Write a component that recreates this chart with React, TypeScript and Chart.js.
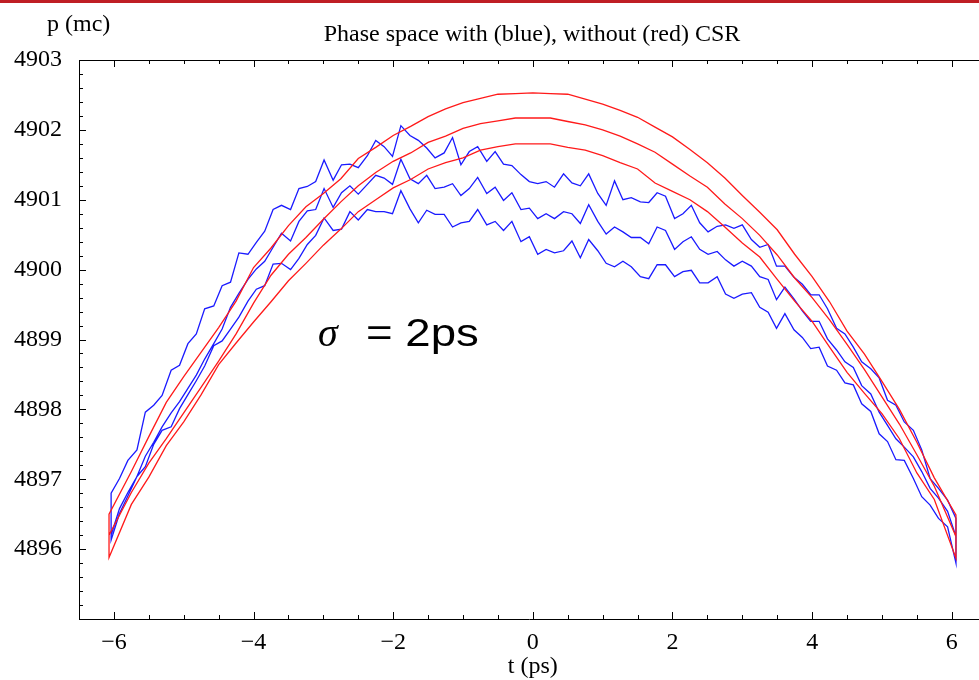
import React, { useEffect, useRef } from 'react';
import { Chart, registerables } from 'chart.js';

Chart.register(...registerables);

// ---- axis setup ----
const X_MIN = -6.5;
const X_MAX = 6.39;
const Y_MIN = 4895;
const Y_MAX = 4903;
const X_TICKS = [-6, -4, -2, 0, 2, 4, 6];
const Y_TICKS = [4896, 4897, 4898, 4899, 4900, 4901, 4902, 4903];
const X_MINOR_STEP = 0.5;
const Y_MINOR_STEP = 0.2;

const TITLE = 'Phase space with (blue), without (red) CSR';
const X_LABEL = 't (ps)';
const Y_LABEL = 'p (mc)';
const NOTE_SYMBOL = 'σ';
const NOTE_TEXT = '= 2ps';

// ---- red (without CSR): three smooth rows ----
const RED_T = [-6.07, -5.75, -5.5, -5.25, -5, -4.75, -4.5, -4.25, -4, -3.75, -3.5, -3.25, -3, -2.75, -2.5, -2.25, -2, -1.75, -1.5, -1.25, -1, -0.75, -0.5, -0.25, 0, 0.25, 0.5, 0.75, 1, 1.25, 1.5, 1.75, 2, 2.25, 2.5, 2.75, 3, 3.25, 3.5, 3.75, 4, 4.25, 4.5, 4.75, 5, 5.25, 5.5, 5.75, 6.06];
const RED_TOP = [4896.50, 4897.11, 4897.61, 4898.10, 4898.47, 4898.82, 4899.17, 4899.55, 4900.03, 4900.31, 4900.63, 4900.90, 4901.09, 4901.30, 4901.59, 4901.75, 4901.92, 4902.05, 4902.19, 4902.30, 4902.39, 4902.45, 4902.51, 4902.52, 4902.53, 4902.52, 4902.51, 4902.44, 4902.37, 4902.28, 4902.18, 4902.04, 4901.90, 4901.72, 4901.53, 4901.31, 4901.06, 4900.82, 4900.57, 4900.22, 4899.90, 4899.54, 4899.12, 4898.79, 4898.40, 4898.00, 4897.53, 4897.02, 4896.49];
const RED_MID = [4896.20, 4896.81, 4897.23, 4897.58, 4897.95, 4898.32, 4898.69, 4899.08, 4899.52, 4899.92, 4900.22, 4900.46, 4900.72, 4900.97, 4901.20, 4901.39, 4901.55, 4901.67, 4901.82, 4901.91, 4902.02, 4902.09, 4902.13, 4902.17, 4902.17, 4902.17, 4902.12, 4902.07, 4902.00, 4901.91, 4901.80, 4901.68, 4901.51, 4901.34, 4901.18, 4900.94, 4900.73, 4900.49, 4900.21, 4899.88, 4899.60, 4899.28, 4898.93, 4898.57, 4898.18, 4897.79, 4897.35, 4896.90, 4896.18];
const RED_BOT = [4895.88, 4896.64, 4897.03, 4897.48, 4897.82, 4898.21, 4898.64, 4898.95, 4899.25, 4899.54, 4899.84, 4900.09, 4900.35, 4900.58, 4900.83, 4901.00, 4901.17, 4901.29, 4901.44, 4901.53, 4901.60, 4901.71, 4901.76, 4901.80, 4901.80, 4901.80, 4901.75, 4901.71, 4901.63, 4901.53, 4901.44, 4901.24, 4901.12, 4901.00, 4900.83, 4900.61, 4900.38, 4900.18, 4899.86, 4899.55, 4899.26, 4898.89, 4898.53, 4898.23, 4897.94, 4897.58, 4897.09, 4896.71, 4895.87];

// ---- blue (with CSR): three noisy rows ----
const BLUE_T = [
  -6.04, -5.92, -5.80, -5.67, -5.55, -5.43, -5.31, -5.18, -5.06, -4.94,
  -4.82, -4.70, -4.57, -4.45, -4.33, -4.21, -4.08, -3.96, -3.84, -3.72,
  -3.60, -3.47, -3.35, -3.23, -3.11, -2.99, -2.86, -2.74, -2.62, -2.50,
  -2.37, -2.25, -2.13, -2.01, -1.89, -1.76, -1.64, -1.52, -1.40, -1.27,
  -1.15, -1.03, -0.91, -0.79, -0.66, -0.54, -0.42, -0.30, -0.17, -0.05,
  0.07, 0.19, 0.31, 0.44, 0.56, 0.68, 0.80, 0.93, 1.05, 1.17,
  1.29, 1.41, 1.54, 1.66, 1.78, 1.90, 2.03, 2.15, 2.27, 2.39,
  2.51, 2.64, 2.76, 2.88, 3.00, 3.13, 3.25, 3.37, 3.49, 3.61,
  3.74, 3.86, 3.98, 4.10, 4.22, 4.35, 4.47, 4.59, 4.71, 4.84,
  4.96, 5.08, 5.20, 5.32, 5.45, 5.57, 5.69, 5.81, 5.94, 6.06,
];
const BLUE_TOP = [
  4896.80, 4897.01, 4897.27, 4897.42, 4897.96, 4898.06, 4898.20, 4898.56, 4898.63, 4898.94,
  4899.08, 4899.44, 4899.48, 4899.77, 4899.82, 4900.24, 4900.22, 4900.39, 4900.55, 4900.86,
  4900.92, 4900.86, 4901.16, 4901.19, 4901.26, 4901.57, 4901.28, 4901.50, 4901.51, 4901.46,
  4901.63, 4901.85, 4901.76, 4901.62, 4902.06, 4901.92, 4901.85, 4901.74, 4901.60, 4901.67,
  4901.89, 4901.50, 4901.69, 4901.76, 4901.55, 4901.69, 4901.51, 4901.49, 4901.36, 4901.26,
  4901.23, 4901.26, 4901.18, 4901.37, 4901.24, 4901.20, 4901.37, 4901.09, 4900.92, 4901.27,
  4901.00, 4901.03, 4900.97, 4900.96, 4901.10, 4901.05, 4900.73, 4900.80, 4900.92, 4900.67,
  4900.54, 4900.62, 4900.64, 4900.59, 4900.64, 4900.43, 4900.32, 4900.36, 4900.05, 4900.05,
  4899.89, 4899.79, 4899.64, 4899.64, 4899.44, 4899.16, 4899.08, 4898.89, 4898.68, 4898.58,
  4898.45, 4898.13, 4898.06, 4897.82, 4897.70, 4897.42, 4897.01, 4896.87, 4896.70, 4896.44,
];
const BLUE_MID = [
  4896.20, 4896.58, 4896.81, 4897.04, 4897.33, 4897.53, 4897.75, 4897.95, 4898.11, 4898.30,
  4898.49, 4898.72, 4898.94, 4899.15, 4899.46, 4899.66, 4899.86, 4900.01, 4900.12, 4900.32,
  4900.52, 4900.41, 4900.69, 4900.84, 4900.86, 4901.16, 4900.89, 4901.10, 4901.20, 4901.08,
  4901.22, 4901.35, 4901.31, 4901.22, 4901.58, 4901.30, 4901.23, 4901.35, 4901.16, 4901.18,
  4901.23, 4901.06, 4901.16, 4901.32, 4901.09, 4901.18, 4900.99, 4901.10, 4900.86, 4900.88,
  4900.73, 4900.80, 4900.73, 4900.83, 4900.80, 4900.66, 4900.93, 4900.69, 4900.51, 4900.61,
  4900.54, 4900.46, 4900.46, 4900.37, 4900.61, 4900.56, 4900.29, 4900.40, 4900.47, 4900.29,
  4900.22, 4900.26, 4900.14, 4900.05, 4900.12, 4900.05, 4899.90, 4899.86, 4899.57, 4899.75,
  4899.58, 4899.41, 4899.26, 4899.26, 4899.01, 4898.85, 4898.68, 4898.60, 4898.34, 4898.22,
  4897.96, 4897.77, 4897.58, 4897.46, 4897.32, 4897.11, 4896.87, 4896.73, 4896.54, 4896.18,
];
const BLUE_BOT = [
  4896.13, 4896.51, 4896.76, 4897.04, 4897.18, 4897.50, 4897.70, 4897.75, 4898.01, 4898.21,
  4898.41, 4898.62, 4898.91, 4898.98, 4899.15, 4899.32, 4899.55, 4899.72, 4899.77, 4900.08,
  4900.09, 4900.00, 4900.16, 4900.36, 4900.49, 4900.74, 4900.56, 4900.58, 4900.83, 4900.71,
  4900.86, 4900.83, 4900.83, 4900.80, 4901.13, 4900.87, 4900.67, 4900.85, 4900.79, 4900.79,
  4900.61, 4900.67, 4900.69, 4900.86, 4900.64, 4900.69, 4900.56, 4900.69, 4900.40, 4900.47,
  4900.22, 4900.29, 4900.24, 4900.27, 4900.41, 4900.17, 4900.43, 4900.27, 4900.09, 4900.04,
  4900.12, 4900.04, 4899.90, 4899.87, 4900.07, 4900.07, 4899.90, 4899.97, 4899.99, 4899.81,
  4899.81, 4899.90, 4899.65, 4899.59, 4899.65, 4899.67, 4899.46, 4899.39, 4899.16, 4899.37,
  4899.14, 4899.03, 4898.87, 4898.89, 4898.62, 4898.56, 4898.38, 4898.35, 4898.08, 4897.97,
  4897.65, 4897.54, 4897.28, 4897.27, 4897.01, 4896.75, 4896.63, 4896.44, 4896.32, 4895.80,
];

// one continuous trace per colour: mid start -> top (L->R) -> bottom (R->L) -> mid (L->R)
function tracePath(t: number[], top: number[], mid: number[], bot: number[]) {
  const pts: { x: number; y: number }[] = [];
  pts.push({ x: t[0], y: mid[0] });
  for (let i = 0; i < t.length; i++) pts.push({ x: t[i], y: top[i] });
  for (let i = t.length - 1; i >= 0; i--) pts.push({ x: t[i], y: bot[i] });
  for (let i = 0; i < t.length; i++) pts.push({ x: t[i], y: mid[i] });
  return pts;
}

const SERIF = "'Liberation Serif', 'Times New Roman', serif";
const SANS = "'Liberation Sans', Arial, sans-serif";

const fmtTick = (v: number) => (v < 0 ? '\u2212' + Math.abs(v) : String(v));

const decorPlugin = {
  id: 'decor',
  afterDraw(chart: any) {
    const { ctx, chartArea: a, scales } = chart;
    const xs = scales.x;
    const ys = scales.y;
    ctx.save();
    ctx.strokeStyle = '#000';
    ctx.lineWidth = 1;
    ctx.beginPath();
    // top frame line
    ctx.moveTo(a.left, Math.round(a.top) + 0.5);
    ctx.lineTo(a.right, Math.round(a.top) + 0.5);
    // x ticks (bottom pointing up, top pointing down)
    for (let v = X_MIN; v <= X_MAX + 1e-9; v += X_MINOR_STEP) {
      const major = X_TICKS.some((m) => Math.abs(m - v) < 1e-6);
      const len = major ? 7 : 4;
      const px = Math.round(xs.getPixelForValue(v)) + 0.5;
      ctx.moveTo(px, a.bottom);
      ctx.lineTo(px, a.bottom - len);
      ctx.moveTo(px, a.top);
      ctx.lineTo(px, a.top + len);
    }
    // y ticks (left pointing right)
    const nY = Math.round((Y_MAX - Y_MIN) / Y_MINOR_STEP);
    for (let i = 0; i <= nY; i++) {
      const v = Y_MIN + i * Y_MINOR_STEP;
      const major = Y_TICKS.some((m) => Math.abs(m - v) < 1e-6);
      const len = major ? 7 : 4;
      const py = Math.round(ys.getPixelForValue(v)) + 0.5;
      ctx.moveTo(a.left, py);
      ctx.lineTo(a.left + len, py);
    }
    ctx.stroke();

    ctx.fillStyle = '#000';
    ctx.textBaseline = 'alphabetic';
    ctx.font = `24px ${SERIF}`;
    ctx.textAlign = 'left';
    ctx.fillText(Y_LABEL, 47, 31);
    ctx.textAlign = 'center';
    ctx.fillText(TITLE, 532, 41);
    ctx.fillText(X_LABEL, xs.getPixelForValue(0), 673);

    // sigma annotation
    ctx.textAlign = 'left';
    ctx.font = `italic 40px ${SERIF}`;
    ctx.fillText(NOTE_SYMBOL, 318, 346);
    ctx.save();
    ctx.translate(366, 346);
    ctx.scale(1.2, 1);
    ctx.font = `38px ${SANS}`;
    ctx.fillText(NOTE_TEXT, 0, 0);
    ctx.restore();
    ctx.restore();
  },
};

export default function App() {
  const canvasRef = useRef<HTMLCanvasElement | null>(null);

  useEffect(() => {
    if (!canvasRef.current) return;
    const chart = new Chart(canvasRef.current, {
      type: 'line',
      data: {
        datasets: [
          {
            label: 'without CSR',
            data: tracePath(RED_T, RED_TOP, RED_MID, RED_BOT),
            borderColor: '#ff1a1a',
            borderWidth: 1.3,
            pointRadius: 0,
            tension: 0,
            fill: false,
            order: 0,
          },
          {
            label: 'with CSR',
            data: tracePath(BLUE_T, BLUE_TOP, BLUE_MID, BLUE_BOT),
            borderColor: '#1a1aff',
            borderWidth: 1.3,
            pointRadius: 0,
            tension: 0,
            fill: false,
            order: 1,
          },
        ],
      },
      options: {
        responsive: false,
        animation: false,
        devicePixelRatio: 1,
        parsing: false,
        layout: { padding: { top: 60, left: 0, right: 0, bottom: 0 } },
        plugins: {
          legend: { display: false },
          title: { display: false },
          tooltip: { enabled: false },
        },
        scales: {
          x: {
            type: 'linear',
            position: 'bottom',
            min: X_MIN,
            max: X_MAX,
            grid: { display: false, drawTicks: false },
            border: { display: true, color: '#000', width: 1 },
            ticks: {
              color: '#000',
              font: { family: SERIF, size: 24 },
              padding: 9,
              maxRotation: 0,
              autoSkip: false,
              callback: (v: any) => fmtTick(Number(v)),
            },
            afterBuildTicks: (s: any) => {
              s.ticks = X_TICKS.map((v) => ({ value: v }));
            },
            afterFit: (s: any) => {
              s.height = 61;
            },
          },
          y: {
            type: 'linear',
            position: 'left',
            min: Y_MIN,
            max: Y_MAX,
            grid: { display: false, drawTicks: false },
            border: { display: true, color: '#000', width: 1 },
            ticks: {
              color: '#000',
              font: { family: SERIF, size: 24 },
              padding: 17,
              autoSkip: false,
              callback: (v: any) => String(v),
            },
            afterBuildTicks: (s: any) => {
              s.ticks = Y_TICKS.map((v) => ({ value: v }));
            },
            afterFit: (s: any) => {
              s.width = 79;
            },
          },
        },
      } as any,
      plugins: [decorPlugin],
    });
    return () => chart.destroy();
  }, []);

  return (
    <div style={{ position: 'absolute', left: 0, top: 0, width: 979, height: 680, background: '#fff' }}>
      <div style={{ position: 'absolute', left: 0, top: 0, width: 979, height: 3, background: '#bf1e24' }} />
      <canvas ref={canvasRef} width={979} height={680} style={{ display: 'block' }} />
    </div>
  );
}
